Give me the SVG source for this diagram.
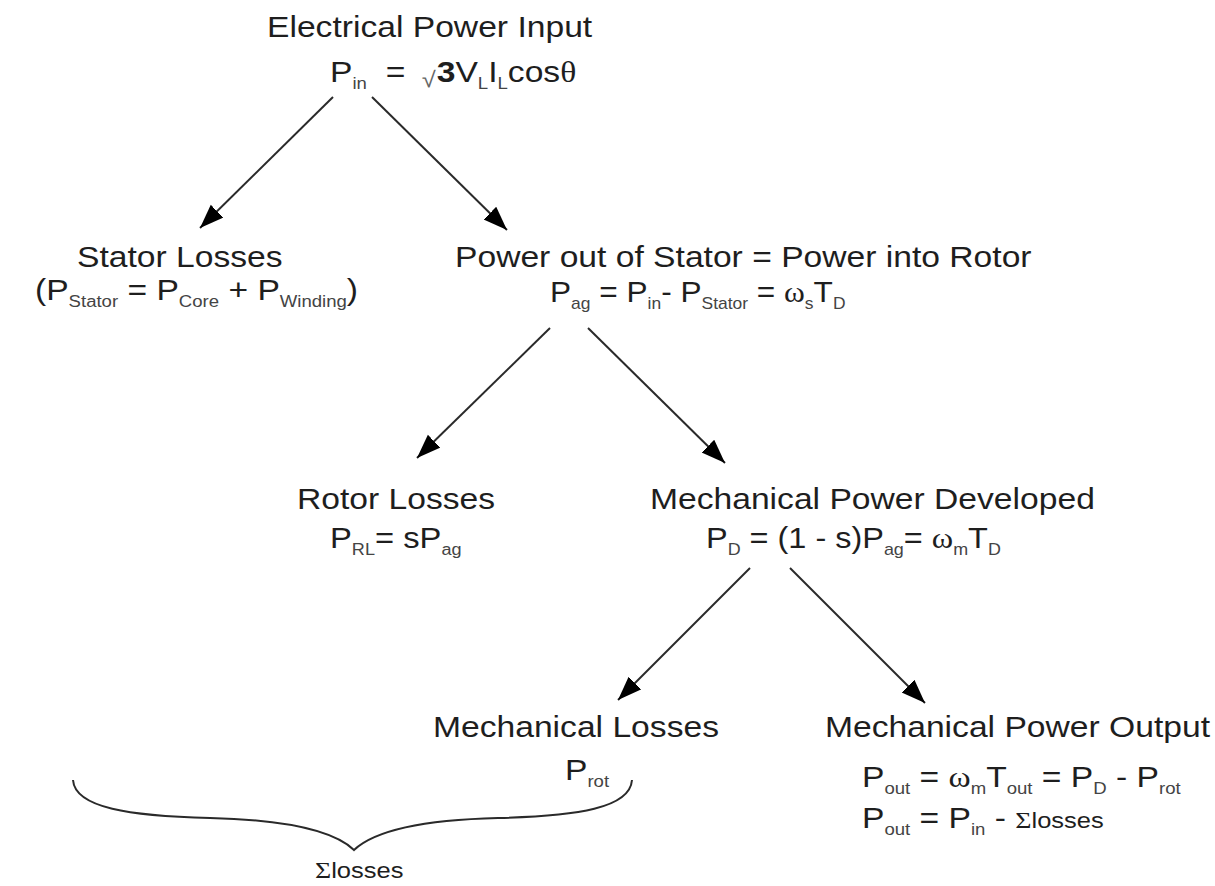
<svg xmlns="http://www.w3.org/2000/svg" width="1215" height="886" viewBox="0 0 1215 886">
<style>
.t{font-family:"Liberation Sans",Arial,sans-serif;font-size:29px;fill:#1e1e1e}
.s{font-size:16px;fill:#444}
.g{font-family:"Liberation Serif","Times New Roman",serif}
.c{stroke:#2a2a2a;stroke-width:2;fill:none}
</style>
<defs>
<marker id="ah" markerUnits="userSpaceOnUse" markerWidth="26" markerHeight="20" refX="24" refY="9" orient="auto">
<path d="M0,0 L24,9 L0,18 z" fill="#000"/>
</marker>
</defs>
<rect width="1215" height="886" fill="#fff"/>
<g id="connectors">
<line class="c" x1="333" y1="97" x2="200" y2="228" marker-end="url(#ah)"/>
<line class="c" x1="372" y1="97" x2="507" y2="230" marker-end="url(#ah)"/>
<line class="c" x1="550" y1="328" x2="417" y2="458" marker-end="url(#ah)"/>
<line class="c" x1="588" y1="328" x2="725" y2="463" marker-end="url(#ah)"/>
<line class="c" x1="750" y1="568" x2="618" y2="700" marker-end="url(#ah)"/>
<line class="c" x1="790" y1="568" x2="925" y2="703" marker-end="url(#ah)"/>
</g>
<g id="n-input">
<text class="t" transform="translate(267,37) scale(1.16,1)">Electrical Power Input</text>
<text class="t" transform="translate(330,82) scale(1.16,1)">P<tspan class="s" dy="7">in</tspan><tspan x="48" dy="-7">=</tspan><tspan x="79" font-size="22" fill="#666" dy="5">√</tspan><tspan x="92" font-weight="bold" dy="-5">3</tspan>V<tspan class="s" dy="7">L</tspan><tspan dy="-7">I</tspan><tspan class="s" dy="7">L</tspan><tspan dy="-7">cos</tspan><tspan class="g">θ</tspan></text>
</g>
<g id="n-stator">
<text class="t" transform="translate(77,267) scale(1.16,1)">Stator Losses</text>
<text class="t" transform="translate(35,300) scale(1.16,1)">(P<tspan class="s" dy="7">Stator</tspan><tspan dy="-7"> = P</tspan><tspan class="s" dy="7">Core</tspan><tspan dy="-7"> + P</tspan><tspan class="s" dy="7">Winding</tspan><tspan dy="-7">)</tspan></text>
</g>
<g id="n-airgap">
<text class="t" transform="translate(455,267) scale(1.16,1)">Power out of Stator = Power into Rotor</text>
<text class="t" transform="translate(550,302) scale(1.09,1)">P<tspan class="s" dy="7">ag</tspan><tspan dy="-7"> = P</tspan><tspan class="s" dy="7">in</tspan><tspan dy="-7">- P</tspan><tspan class="s" dy="7">Stator</tspan><tspan dy="-7"> = </tspan><tspan class="g">ω</tspan><tspan class="s" dy="7">s</tspan><tspan dy="-7">T</tspan><tspan class="s" dy="7">D</tspan></text>
</g>
<g id="n-rotor">
<text class="t" transform="translate(297,509) scale(1.16,1)">Rotor Losses</text>
<text class="t" transform="translate(330,548) scale(1.13,1)">P<tspan class="s" dy="7">RL</tspan><tspan dy="-7">= sP</tspan><tspan class="s" dy="7">ag</tspan></text>
</g>
<g id="n-developed">
<text class="t" transform="translate(650,509) scale(1.16,1)">Mechanical Power Developed</text>
<text class="t" transform="translate(706,548) scale(1.12,1)">P<tspan class="s" dy="7">D</tspan><tspan dx="8" dy="-7">= (1 - s)P</tspan><tspan class="s" dy="7">ag</tspan><tspan dy="-7">= </tspan><tspan class="g">ω</tspan><tspan class="s" dy="7">m</tspan><tspan dy="-7">T</tspan><tspan class="s" dy="7">D</tspan></text>
</g>
<g id="n-mechloss">
<text class="t" transform="translate(433,737) scale(1.16,1)">Mechanical Losses</text>
<text class="t" transform="translate(565,780) scale(1.16,1)">P<tspan class="s" dy="7">rot</tspan></text>
</g>
<g id="n-output">
<text class="t" transform="translate(825,737) scale(1.16,1)">Mechanical Power Output</text>
<text class="t" transform="translate(862,787) scale(1.16,1)">P<tspan class="s" dy="7">out</tspan><tspan dy="-7"> = </tspan><tspan class="g">ω</tspan><tspan class="s" dy="7">m</tspan><tspan dy="-7">T</tspan><tspan class="s" dy="7">out</tspan><tspan dy="-7"> = P</tspan><tspan class="s" dy="7">D</tspan><tspan dy="-7"> - P</tspan><tspan class="s" dy="7">rot</tspan></text>
<text class="t" transform="translate(862,828) scale(1.16,1)">P<tspan class="s" dy="7">out</tspan><tspan dy="-7"> = P</tspan><tspan class="s" dy="7">in</tspan><tspan dy="-7"> - </tspan><tspan class="g" font-size="24">Σ</tspan><tspan font-size="22">losses</tspan></text>
</g>
<g id="n-sum">
<path class="c" d="M73,780 C75,808 130,816 210,818 C290,820 335,832 354,850 C373,832 418,820 498,818 C578,816 630,808 632,780"/>
<text class="t" transform="translate(315,878) scale(1.16,1)"><tspan class="g" font-size="24">Σ</tspan><tspan font-size="22">losses</tspan></text>
</g>
</svg>
